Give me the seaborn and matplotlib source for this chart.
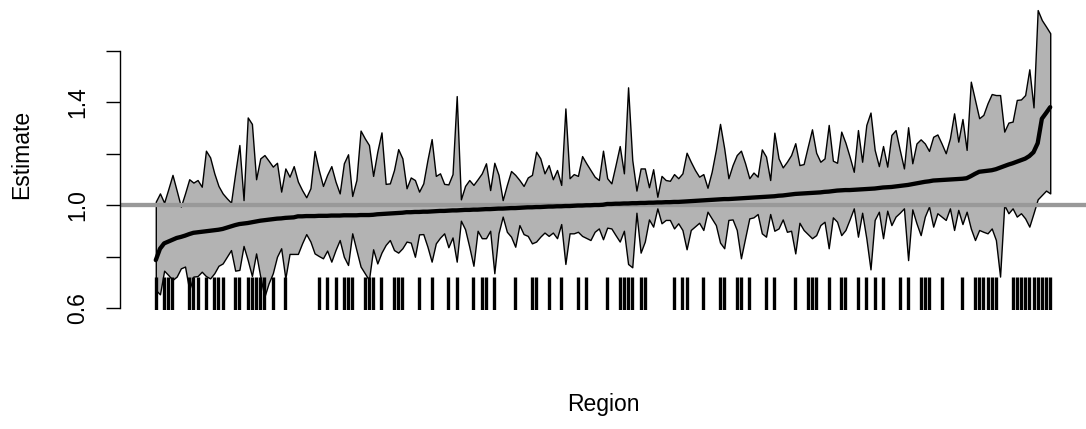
import numpy as np
import seaborn as sns
import matplotlib.pyplot as plt

# sorted region estimates with their interval
estimate = [
    0.786, 0.830, 0.851, 0.858, 0.865, 0.872, 0.876, 0.881, 0.887, 0.892,
    0.894, 0.896, 0.898, 0.900, 0.902, 0.904, 0.907, 0.912, 0.917, 0.922,
    0.926, 0.928, 0.930, 0.933, 0.936, 0.939, 0.941, 0.943, 0.945, 0.947,
    0.948, 0.950, 0.951, 0.952, 0.956, 0.956, 0.957, 0.957, 0.957, 0.958,
    0.958, 0.958, 0.959, 0.959, 0.959, 0.960, 0.960, 0.960, 0.960, 0.961,
    0.961, 0.961, 0.962, 0.964, 0.965, 0.966, 0.967, 0.968, 0.969, 0.970,
    0.972, 0.972, 0.973, 0.973, 0.974, 0.974, 0.975, 0.976, 0.977, 0.977,
    0.978, 0.979, 0.979, 0.980, 0.981, 0.981, 0.982, 0.982, 0.983, 0.984,
    0.984, 0.985, 0.986, 0.986, 0.987, 0.988, 0.988, 0.989, 0.990, 0.991,
    0.991, 0.992, 0.992, 0.993, 0.994, 0.994, 0.995, 0.995, 0.996, 0.996,
    0.997, 0.998, 0.998, 0.999, 0.999, 1.000, 1.000, 1.001, 1.004, 1.004,
    1.005, 1.005, 1.006, 1.006, 1.007, 1.007, 1.008, 1.008, 1.009, 1.009,
    1.010, 1.010, 1.011, 1.011, 1.012, 1.012, 1.013, 1.014, 1.015, 1.016,
    1.017, 1.018, 1.019, 1.020, 1.021, 1.022, 1.023, 1.023, 1.024, 1.025,
    1.026, 1.027, 1.028, 1.029, 1.030, 1.031, 1.032, 1.033, 1.034, 1.036,
    1.037, 1.039, 1.041, 1.043, 1.044, 1.045, 1.046, 1.047, 1.048, 1.049,
    1.051, 1.052, 1.054, 1.056, 1.057, 1.058, 1.058, 1.059, 1.060, 1.061,
    1.062, 1.063, 1.064, 1.066, 1.068, 1.069, 1.070, 1.072, 1.074, 1.076,
    1.078, 1.081, 1.084, 1.087, 1.090, 1.092, 1.095, 1.096, 1.097, 1.098,
    1.099, 1.100, 1.101, 1.102, 1.104, 1.112, 1.121, 1.129, 1.131, 1.133,
    1.135, 1.139, 1.145, 1.151, 1.157, 1.162, 1.168, 1.174, 1.180, 1.190,
    1.205, 1.240, 1.335, 1.357, 1.380,
]

upper = [
    1.013, 1.045, 1.009, 1.062, 1.117, 1.056, 0.994, 1.045, 1.100, 1.087,
    1.097, 1.071, 1.211, 1.185, 1.123, 1.074, 1.045, 1.026, 1.009, 1.123,
    1.233, 1.019, 1.340, 1.315, 1.100, 1.181, 1.194, 1.172, 1.149, 1.164,
    1.052,
    1.142, 1.110, 1.151, 1.091, 1.058, 1.030, 1.065, 1.210, 1.136, 1.074,
    1.117, 1.151, 1.091, 1.045, 1.162, 1.197, 1.035, 1.097, 1.289, 1.259,
    1.233, 1.113, 1.207, 1.282, 1.082, 1.084, 1.136, 1.217, 1.181, 1.065,
    1.107, 1.097, 1.052, 1.084, 1.175, 1.256, 1.113, 1.123, 1.082, 1.080,
    1.120, 1.423, 1.022, 1.074, 1.097, 1.078, 1.100, 1.123, 1.162, 1.058,
    1.164, 1.117, 1.019, 1.078, 1.132, 1.117, 1.097, 1.074, 1.107, 1.117,
    1.207,
    1.181, 1.123, 1.155, 1.100, 1.136, 1.078, 1.375, 1.104, 1.120, 1.113,
    1.190, 1.162, 1.136, 1.110, 1.097, 1.211, 1.104, 1.084, 1.155, 1.229,
    1.123, 1.457, 1.175, 1.056, 1.142, 1.142, 1.069, 1.139, 1.032, 1.113,
    1.097,
    1.094, 1.120, 1.104, 1.123, 1.203, 1.168, 1.136, 1.110, 1.120, 1.067,
    1.129, 1.214, 1.315, 1.220, 1.104, 1.155, 1.194, 1.211, 1.162, 1.104,
    1.126, 1.110, 1.216, 1.188, 1.097, 1.281, 1.181, 1.146, 1.168, 1.194,
    1.240,
    1.155, 1.159, 1.227, 1.294, 1.203, 1.168, 1.181, 1.311, 1.172, 1.164,
    1.285, 1.242, 1.188, 1.129, 1.291, 1.168, 1.311, 1.359, 1.214, 1.151,
    1.229, 1.149, 1.272, 1.291, 1.214, 1.142, 1.302, 1.162, 1.239, 1.255,
    1.239,
    1.210, 1.265, 1.274, 1.239, 1.201, 1.259, 1.356, 1.246, 1.334, 1.214,
    1.479, 1.408, 1.337, 1.350, 1.395, 1.431, 1.427, 1.427, 1.285, 1.320,
    1.324, 1.408, 1.410, 1.427, 1.527, 1.379, 1.757, 1.718, 1.693, 1.667,
]

lower = [
    0.670, 0.653, 0.745, 0.728, 0.709, 0.722, 0.754, 0.761, 0.670, 0.722,
    0.724, 0.741, 0.724, 0.715, 0.735, 0.764, 0.773, 0.799, 0.825, 0.745,
    0.748, 0.841, 0.786, 0.724, 0.812, 0.722, 0.644, 0.696, 0.735, 0.799,
    0.832,
    0.715, 0.810, 0.810, 0.810, 0.851, 0.887, 0.858, 0.812, 0.802, 0.793,
    0.823, 0.780, 0.825, 0.864, 0.799, 0.767, 0.890, 0.825, 0.761, 0.735,
    0.709, 0.828, 0.773, 0.815, 0.845, 0.864, 0.825, 0.815, 0.832, 0.858,
    0.854, 0.799, 0.886, 0.887, 0.838, 0.780, 0.851, 0.873, 0.890, 0.836,
    0.874, 0.780, 0.939, 0.906, 0.838, 0.764, 0.900, 0.871, 0.871, 0.900,
    0.735, 0.890, 0.955, 0.896, 0.877, 0.838, 0.922, 0.887, 0.880, 0.851,
    0.858,
    0.877, 0.893, 0.880, 0.893, 0.871, 0.926, 0.771, 0.890, 0.890, 0.896,
    0.880, 0.872, 0.864, 0.896, 0.909, 0.867, 0.912, 0.909, 0.883, 0.858,
    0.900, 0.771, 0.758, 0.970, 0.815, 0.858, 0.944, 0.916, 0.987, 0.929,
    0.942,
    0.942, 0.909, 0.929, 0.903, 0.828, 0.903, 0.917, 0.931, 0.903, 0.974,
    0.948, 0.922, 0.854, 0.832, 0.942, 0.944, 0.903, 0.793, 0.871, 0.948,
    0.952, 0.965, 0.890, 0.877, 0.965, 0.900, 0.909, 0.944, 0.896, 0.900,
    0.812,
    0.931, 0.903, 0.887, 0.871, 0.883, 0.922, 0.935, 0.832, 0.952, 0.935,
    0.883, 0.903, 0.944, 0.987, 0.877, 0.970, 0.871, 0.750, 0.942, 0.974,
    0.871, 0.978, 0.922, 0.955, 0.970, 0.987, 0.786, 0.983, 0.929, 0.883,
    0.955,
    0.994, 0.916, 0.968, 0.955, 0.942, 0.987, 0.903, 0.981, 0.926, 0.974,
    0.909, 0.864, 0.903, 0.896, 0.890, 0.909, 0.864, 0.722, 1.000, 0.968,
    0.987, 0.955, 0.968, 0.948, 0.916, 0.968, 1.022, 1.039, 1.056, 1.045,
]

# regions marked in the rug at the bottom
flagged = [
    0, 2, 3, 4, 8, 9, 10, 12, 14, 15, 16, 19, 20, 22, 23, 24, 25, 26, 28,
    31, 39, 41, 43, 45, 46, 47, 50, 51, 52, 54, 57, 58, 59, 63, 66, 70, 72,
    76, 78, 79, 81, 86, 90, 91, 94, 97, 101, 103, 108, 111, 112, 113, 114,
    116, 117, 124, 126, 127, 131, 135, 136, 139, 140, 142, 146, 148, 153,
    156, 157, 158, 161, 164, 165, 168, 170, 172, 174, 178, 180, 183, 184,
    185, 188, 193, 196, 197, 198, 199, 200, 201, 205, 206, 207, 208, 209,
    210, 211, 212, 213, 214,
]

yticks = [0.6, 0.8, 1.0, 1.2, 1.4, 1.6]
ytick_labels = ["0.6", "", "1.0", "", "1.4", ""]

region = np.arange(len(estimate))

sns.set_style("white")
plt.rcParams['font.family'] = ['Liberation Sans', 'DejaVu Sans']
plt.rcParams['text.color'] = 'black'

fig = plt.figure(figsize=(10.86, 4.29), dpi=100)
ax = fig.add_axes([120 / 1086, 119 / 429, 966 / 1086, 310 / 429])

ax.fill_between(region, lower, upper, facecolor="#b3b3b3",
                edgecolor="black", linewidth=1.0, zorder=1)
ax.axhline(1.0, color="#999999", linewidth=3.1, zorder=2)
sns.lineplot(x=region, y=estimate, color="black", linewidth=3.1,
             ax=ax, zorder=3)
sns.rugplot(x=flagged, height=33 / 310, color="black", linewidth=2.4,
            ax=ax, expand_margins=False)

pad = 0.04 * (len(estimate) - 1)
ax.set_xlim(-pad, len(estimate) - 1 + pad)
ax.set_ylim(1 - 105 / 257.5, 1 + 205 / 257.5)

ax.set_xticks([])
ax.set_yticks(yticks)
ax.set_yticklabels(ytick_labels, rotation=90, va="center")
ax.tick_params(axis="y", left=True, direction="out", length=10, width=1.0,
               pad=12, labelsize=16.5, colors="black")
for side in ["top", "right", "bottom"]:
    ax.spines[side].set_visible(False)
ax.spines["left"].set_bounds(0.6, 1.6)
ax.spines["left"].set_color("black")
ax.spines["left"].set_linewidth(1.0)
ax.set_xlabel("")
ax.set_ylabel("")

fig.text(22 / 1086, 1 - 154 / 429, "Estimate", rotation=90,
         ha="center", va="center", fontsize=16.5, color="black")
fig.text(603 / 1086, 1 - 405 / 429, "Region",
         ha="center", va="center", fontsize=16.5, color="black")

fig.savefig("out.png", dpi=100)
